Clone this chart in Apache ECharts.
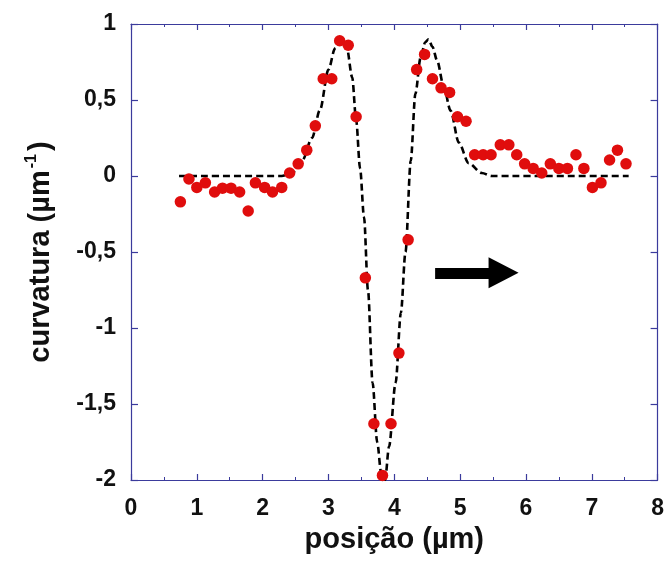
<!DOCTYPE html>
<html>
<head>
<meta charset="utf-8">
<script src="https://cdn.jsdelivr.net/npm/echarts@6/dist/echarts.min.js"></script>
<style>
html,body{margin:0;padding:0;background:#fff;}
#chart{width:667px;height:565px;}
</style>
</head>
<body>
<div id="chart"></div>
<script>
// measured points
var posX = [0.75, 0.88, 1.0, 1.13, 1.27, 1.39, 1.52, 1.65, 1.78, 1.89, 2.03, 2.15, 2.29, 2.41, 2.54, 2.67, 2.80, 2.92, 3.05, 3.17, 3.30, 3.42,
            3.56, 3.69, 3.82, 3.95, 4.07, 4.21, 4.34, 4.46, 4.58, 4.71, 4.84, 4.96, 5.09, 5.22, 5.35, 5.47, 5.61, 5.74, 5.86, 5.98,
            6.11, 6.24, 6.37, 6.50, 6.63, 6.76, 6.88, 7.01, 7.14, 7.27, 7.39, 7.52];
var curv = [-0.17, -0.02, -0.075, -0.045, -0.105, -0.08, -0.08, -0.105, -0.23, -0.045, -0.075, -0.105, -0.075, 0.02, 0.08, 0.17, 0.33, 0.64, 0.64, 0.89, 0.86, 0.39,
            -0.67, -1.63, -1.97, -1.63, -1.165, -0.42, 0.70, 0.80, 0.64, 0.58, 0.55, 0.39, 0.36, 0.14, 0.14, 0.14, 0.205, 0.205, 0.14, 0.08,
            0.05, 0.02, 0.08, 0.05, 0.05, 0.14, 0.05, -0.075, -0.045, 0.105, 0.17, 0.08];
// fitted curve (dashed)
var fitX = [0.73, 2.29, 2.45, 2.60, 2.75, 2.87, 3.00, 3.10, 3.20, 3.28, 3.36, 3.42, 3.48, 3.54, 3.60, 3.67, 3.74, 3.80, 3.86, 3.92, 4.02, 4.10, 4.17, 4.25, 4.32, 4.40, 4.47, 4.52, 4.58, 4.65, 4.75, 4.855, 4.98, 5.13, 5.33, 5.48, 7.56];
var fitY = [0, 0, 0.02, 0.10, 0.25, 0.434, 0.70, 0.84, 0.90, 0.84, 0.65, 0.37, 0.05, -0.27, -0.75, -1.36, -1.75, -1.95, -2.0, -1.78, -1.36, -0.90, -0.50, 0.10, 0.54, 0.78, 0.88, 0.90, 0.85, 0.76, 0.59, 0.43, 0.22, 0.085, 0.02, 0, 0];
// arrow annotation (data coords)
var arrowStart = [4.62, -0.637];
var arrowHead = [5.66, -0.637];

var xTicks = {min: 0, max: 8, interval: 1};
var yTicks = {min: -2, max: 1, interval: 0.5};

var frameColor = '#3b3b9c';
var font = 'Liberation Sans, Arial, sans-serif';

function pairs(a, b) { return a.map(function (v, i) { return [v, b[i]]; }); }

var chart = echarts.init(document.getElementById('chart'), null, {renderer: 'canvas'});
var axisCommon = {
  axisLine: {show: true, onZero: false, lineStyle: {color: frameColor, width: 1.2}},
  splitLine: {show: false}
};
chart.setOption({
  animation: false,
  backgroundColor: '#fff',
  grid: {left: 131, right: 9, top: 24, bottom: 85, containLabel: false},
  xAxis: [
    Object.assign({}, axisCommon, {
      type: 'value', min: xTicks.min, max: xTicks.max, interval: xTicks.interval, position: 'bottom',
      axisTick: {show: true, inside: true, length: 6, lineStyle: {color: frameColor, width: 1.2}},
      minorTick: {show: true, splitNumber: 2, length: 3, lineStyle: {color: frameColor, width: 1}},
      axisLabel: {color: '#111', fontFamily: font, fontWeight: 'bold', fontSize: 23, margin: 17},
      name: 'posição (µm)', nameLocation: 'middle', nameGap: 45,
      nameTextStyle: {color: '#111', fontFamily: font, fontWeight: 'bold', fontSize: 29}
    }),
    Object.assign({}, axisCommon, {
      type: 'value', min: xTicks.min, max: xTicks.max, interval: xTicks.interval, position: 'top',
      axisTick: {show: true, inside: true, length: 6, lineStyle: {color: frameColor, width: 1.2}},
      minorTick: {show: true, splitNumber: 2, length: 3, lineStyle: {color: frameColor, width: 1}},
      axisLabel: {show: false}
    })
  ],
  yAxis: [
    Object.assign({}, axisCommon, {
      type: 'value', min: yTicks.min, max: yTicks.max, interval: yTicks.interval, position: 'left',
      axisTick: {show: true, inside: true, length: 7, lineStyle: {color: frameColor, width: 1.2}},
      axisLabel: {color: '#111', fontFamily: font, fontWeight: 'bold', fontSize: 23, margin: 15,
        formatter: function (v) { return String(v).replace('.', ','); }},
      name: '{a|curvatura (µm}{s|-1}{a|)}', nameLocation: 'middle', nameGap: 74, nameRotate: 90,
      nameTextStyle: {
        rich: {
          a: {color: '#111', fontFamily: font, fontWeight: 'bold', fontSize: 29, lineHeight: 33},
          s: {color: '#111', fontFamily: font, fontWeight: 'bold', fontSize: 16, verticalAlign: 'top', lineHeight: 33, padding: [0, 3, 0, 2]}
        }
      }
    }),
    Object.assign({}, axisCommon, {
      type: 'value', min: yTicks.min, max: yTicks.max, interval: yTicks.interval, position: 'right',
      axisTick: {show: true, inside: true, length: 7, lineStyle: {color: frameColor, width: 1.2}},
      axisLabel: {show: false}
    })
  ],
  series: [
    {
      type: 'line', data: pairs(fitX, fitY), showSymbol: false, smooth: 0.3, smoothMonotone: 'x',
      lineStyle: {color: '#000', width: 2.6, type: [7, 4]}, z: 2, clip: true
    },
    {
      type: 'scatter', data: pairs(posX, curv), symbol: 'circle', symbolSize: 11.5,
      itemStyle: {color: '#e00d0d', opacity: 1}, z: 3, clip: false
    },
    {
      type: 'line', data: [], silent: true,
      markLine: {
        silent: true, animation: false,
        label: {show: false},
        lineStyle: {color: '#000', width: 11, type: 'solid'},
        data: [[
          {coord: arrowStart, symbol: 'none'},
          {coord: arrowHead, symbol: 'path://M0,10 L5,0 L10,10 Z', symbolSize: [31, 30]}
        ]]
      }
    }
  ]
});
</script>
</body>
</html>
